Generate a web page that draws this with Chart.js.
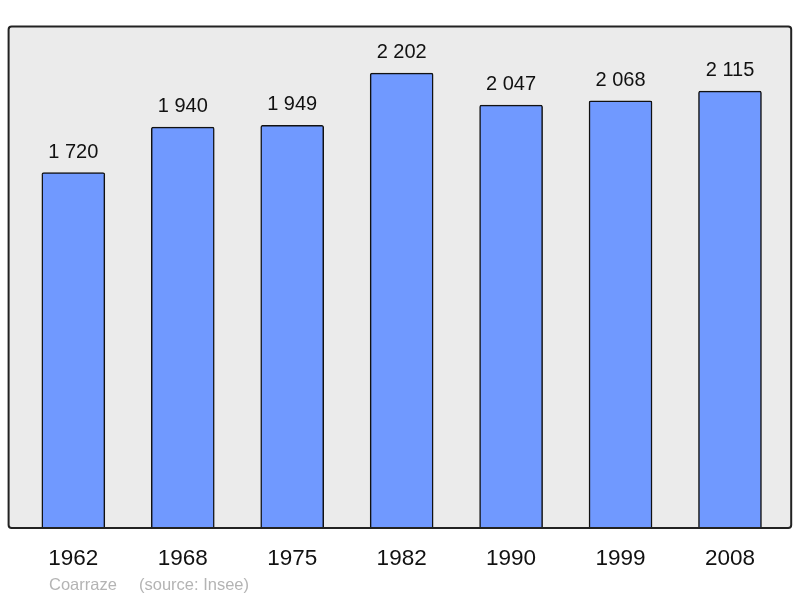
<!DOCTYPE html>
<html>
<head>
<meta charset="utf-8">
<script src="https://cdn.jsdelivr.net/npm/chart.js@4/dist/chart.umd.min.js"></script>
<style>
  html, body { margin: 0; padding: 0; background: #fff; }
  #wrap { width: 800px; height: 598px; position: relative; }
</style>
</head>
<body>
<div id="wrap"><canvas id="popChart"></canvas></div>
<script>
const years = ['1962', '1968', '1975', '1982', '1990', '1999', '2008'];
const population = [1720, 1940, 1949, 2202, 2047, 2068, 2115];
const commune = 'Coarraze';
const source = '(source: Insee)';

const fmt = n => String(n).replace(/\B(?=(\d{3})+(?!\d))/g, ' ');

// grey framed box behind the bars
const boxPath = (ctx, a) => {
    const x0 = a.left - 10, x1 = a.right + 6.5, y0 = a.top - 0.5, y1 = a.bottom;
    ctx.beginPath();
    ctx.roundRect(x0, y0, x1 - x0, y1 - y0, 3);
};

const frame = {
    id: 'frame',
    beforeDatasetsDraw(chart) {
        const { ctx, chartArea } = chart;
        ctx.save();
        boxPath(ctx, chartArea);
        ctx.fillStyle = '#ebebeb';
        ctx.fill();
        ctx.restore();
    },
    afterDatasetsDraw(chart) {
        const { ctx, chartArea } = chart;
        ctx.save();
        boxPath(ctx, chartArea);
        ctx.lineWidth = 2;
        ctx.strokeStyle = '#222';
        ctx.stroke();
        ctx.restore();
    }
};

const labels = {
    id: 'labels',
    afterDraw(chart) {
        const { ctx, chartArea: a } = chart;
        const meta = chart.getDatasetMeta(0);
        const xs = chart.scales.x;
        ctx.save();
        ctx.textAlign = 'center';
        ctx.textBaseline = 'alphabetic';
        ctx.fillStyle = '#111';
        ctx.font = '20px "Liberation Sans", Arial, sans-serif';
        meta.data.forEach((bar, i) => {
            ctx.fillText(fmt(population[i]), bar.x, bar.y - 15);
        });
        ctx.font = '22.5px "Liberation Sans", Arial, sans-serif';
        years.forEach((y, i) => {
            ctx.fillText(y, xs.getPixelForValue(i), a.bottom + 37);
        });
        ctx.textAlign = 'left';
        ctx.fillStyle = '#b4b4b4';
        ctx.font = '16.5px "Liberation Sans", Arial, sans-serif';
        ctx.fillText(commune, 49, 590);
        ctx.fillText(source, 139, 590);
        ctx.restore();
    }
};

new Chart(document.getElementById('popChart'), {
    type: 'bar',
    data: {
        labels: years,
        datasets: [{
            data: population,
            backgroundColor: '#7099ff',
            borderColor: '#111',
            borderWidth: 1.5,
            borderRadius: 2,
            borderSkipped: 'bottom',
            barThickness: 63
        }]
    },
    options: {
        responsive: true,
        maintainAspectRatio: false,
        animation: false,
        layout: { padding: { left: 18.6, right: 15.3, top: 27, bottom: 70 } },
        scales: {
            x: { display: false },
            y: { display: false, min: 0, max: 2425 }
        },
        plugins: {
            legend: { display: false },
            tooltip: { enabled: false }
        }
    },
    plugins: [frame, labels]
});
</script>
</body>
</html>
